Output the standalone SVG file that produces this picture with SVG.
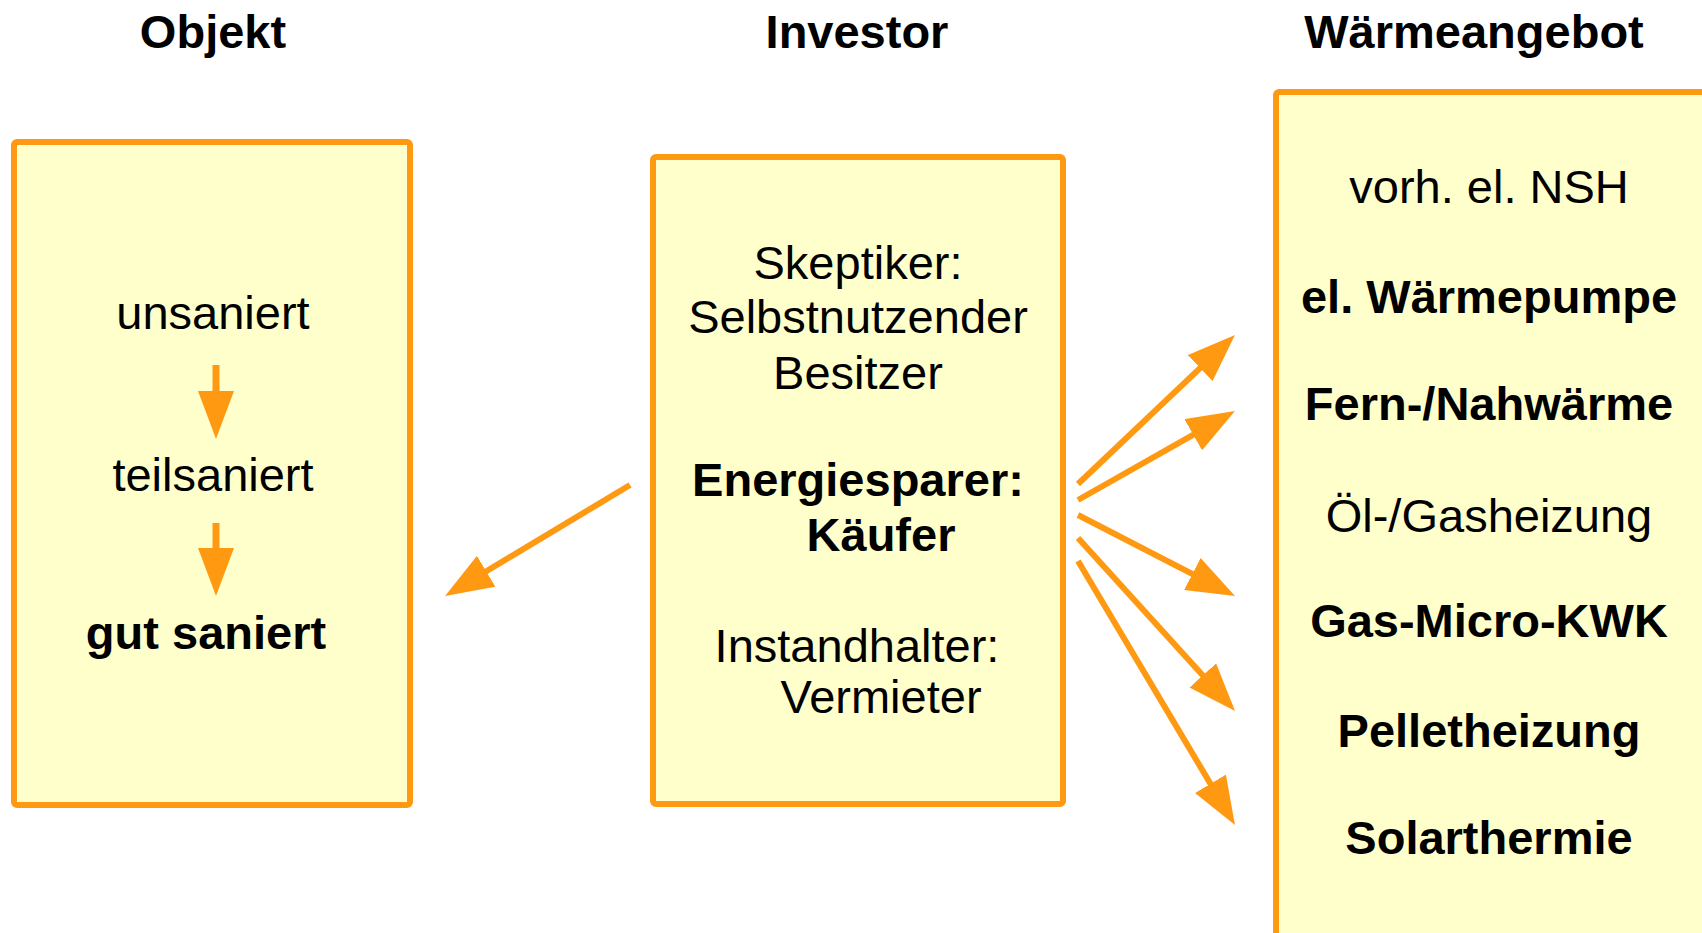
<svg xmlns="http://www.w3.org/2000/svg" width="1702" height="933" viewBox="0 0 1702 933">
<style>
.box{fill:#FFFFCC;stroke:#FF9912;stroke-width:6}
.t{font-family:"Liberation Sans",Arial,sans-serif;font-size:47px;fill:#000;text-anchor:middle}
.b{font-weight:bold}
.arr{stroke:#FF9912;stroke-width:6;fill:none;marker-end:url(#ah)}
.varr{stroke:#FF9912;stroke-width:7;fill:none;marker-end:url(#ah)}
</style>
<defs>
<marker id="ah" markerUnits="userSpaceOnUse" markerWidth="48" markerHeight="36" refX="14" refY="18" orient="auto" viewBox="0 0 48 36">
<path d="M0,0 L48,18 L0,36 z" fill="#FF9912"/>
</marker>
</defs>
<rect width="1702" height="933" fill="#fff"/>
<g id="titles">
<text class="t b" x="213" y="48">Objekt</text>
<text class="t b" x="857" y="48">Investor</text>
<text class="t b" x="1474" y="48">Wärmeangebot</text>
</g>
<g id="objekt">
<rect class="box" x="14" y="142" width="396" height="663" rx="3"/>
<text class="t" x="213" y="329">unsaniert</text>
<line class="varr" x1="216" y1="365" x2="216" y2="405"/>
<text class="t" x="213" y="491">teilsaniert</text>
<line class="varr" x1="216" y1="523" x2="216" y2="562"/>
<text class="t b" x="206" y="649">gut saniert</text>
</g>
<g id="investor">
<rect class="box" x="653" y="157" width="410" height="647" rx="3"/>
<text class="t" x="858" y="279">Skeptiker:</text>
<text class="t" x="858" y="333">Selbstnutzender</text>
<text class="t" x="858" y="389">Besitzer</text>
<text class="t b" x="858" y="496">Energiesparer:</text>
<text class="t b" x="881" y="551">Käufer</text>
<text class="t" x="857" y="662">Instandhalter:</text>
<text class="t" x="881" y="713">Vermieter</text>
</g>
<g id="waermeangebot">
<rect class="box" x="1276" y="92" width="500" height="900" rx="3"/>
<text class="t" x="1489" y="203">vorh. el. NSH</text>
<text class="t b" x="1489" y="313">el. Wärmepumpe</text>
<text class="t b" x="1489" y="420">Fern-/Nahwärme</text>
<text class="t" x="1489" y="532">Öl-/Gasheizung</text>
<text class="t b" x="1489" y="637">Gas-Micro-KWK</text>
<text class="t b" x="1489" y="747">Pelletheizung</text>
<text class="t b" x="1489" y="854">Solarthermie</text>
</g>
<g id="connectors">
<line class="arr" x1="630" y1="485" x2="474.2" y2="578.5"/>
<line class="arr" x1="1078" y1="484" x2="1210.3" y2="358.4"/>
<line class="arr" x1="1078" y1="500" x2="1205.4" y2="427.8"/>
<line class="arr" x1="1078" y1="515" x2="1204.8" y2="580.4"/>
<line class="arr" x1="1078" y1="538" x2="1212.2" y2="685.8"/>
<line class="arr" x1="1078" y1="561" x2="1217.6" y2="795.8"/>
</g>
</svg>
